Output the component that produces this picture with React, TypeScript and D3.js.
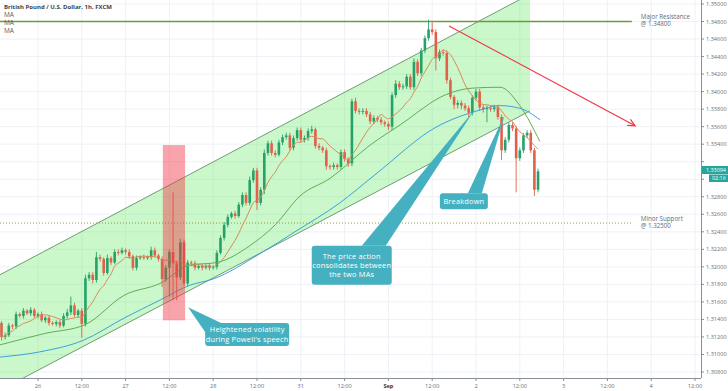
import React from 'react';
import * as d3 from 'd3';

// GBP/USD 1h candles, hour index counted from Aug 26 00:00 (weekend removed)
const firstHour = -10;
const firstOpen = 1.3136;
const closes = [
  1.3120, 1.3122, 1.3133, 1.3132, 1.3146, 1.3144, 1.3150, 1.3147, 1.3151, 1.3144,
  1.3146, 1.3139, 1.3142, 1.3136, 1.3135, 1.3137, 1.3133, 1.3144, 1.3148, 1.3156,
  1.3145, 1.3150, 1.3135, 1.3187, 1.3191, 1.3185, 1.3211, 1.3209, 1.3193, 1.3210,
  1.3205, 1.3217, 1.3216, 1.3219, 1.3217, 1.3212, 1.3199, 1.3210, 1.3211, 1.3210,
  1.3211, 1.3219, 1.3213, 1.3209, 1.3186, 1.3199, 1.3217, 1.3204, 1.3188, 1.3228,
  1.3181, 1.3205, 1.3204, 1.3199, 1.3201, 1.3199, 1.3201, 1.3199, 1.3200, 1.3216,
  1.3233, 1.3248, 1.3257, 1.3261, 1.3258, 1.3271, 1.3282, 1.3273, 1.3299, 1.3310,
  1.3273, 1.3288, 1.3330, 1.3341, 1.3330, 1.3328, 1.3342, 1.3348, 1.3350, 1.3336,
  1.3347, 1.3356, 1.3345, 1.3347, 1.3355, 1.3357, 1.3338, 1.3336, 1.3333, 1.3315,
  1.3314, 1.3316, 1.3314, 1.3331, 1.3323, 1.3318, 1.3389, 1.3378, 1.3377, 1.3378,
  1.3374, 1.3366, 1.3370, 1.3368, 1.3365, 1.3363, 1.3360, 1.3396, 1.3409, 1.3405,
  1.3406, 1.3417, 1.3405, 1.3434, 1.3421, 1.3447, 1.3461, 1.3471, 1.3468, 1.3438,
  1.3445, 1.3444, 1.3413, 1.3394, 1.3385, 1.3387, 1.3384, 1.3381, 1.3376, 1.3393,
  1.3400, 1.3382, 1.3380, 1.3381, 1.3380, 1.3382, 1.3371, 1.3333, 1.3345, 1.3362,
  1.3358, 1.3324, 1.3333, 1.3350, 1.3353, 1.3333, 1.3288, 1.3309,
];
// wick lengths in pips above / below the body
const upperWick = [
  2, 3, 3, 2, 3, 2, 3, 2, 3, 2,
  2, 3, 2, 3, 2, 2, 3, 3, 4, 10,
  3, 2, 3, 4, 3, 3, 6, 3, 2, 4,
  2, 3, 3, 3, 2, 3, 2, 3, 2, 3,
  2, 4, 3, 2, 3, 3, 3, 68, 3, 4,
  3, 3, 2, 3, 2, 3, 2, 3, 2, 3,
  3, 3, 3, 2, 3, 3, 3, 3, 4, 3,
  3, 3, 4, 3, 3, 3, 3, 3, 3, 3,
  3, 3, 3, 3, 3, 4, 2, 3, 2, 3,
  2, 3, 2, 3, 3, 2, 3, 4, 3, 3,
  3, 3, 3, 2, 3, 2, 3, 3, 4, 3,
  3, 3, 3, 4, 3, 3, 3, 11, 8, 3,
  3, 3, 3, 3, 2, 3, 3, 3, 3, 3,
  3, 3, 3, 3, 3, 3, 3, 3, 3, 3,
  3, 3, 3, 3, 3, 3, 3, 3,
];
const lowerWick = [
  4, 3, 2, 3, 3, 2, 3, 2, 3, 2,
  3, 2, 3, 3, 2, 3, 3, 2, 3, 3,
  2, 3, 16, 3, 3, 4, 3, 3, 3, 2,
  3, 2, 3, 2, 3, 3, 3, 3, 2, 2,
  2, 3, 2, 3, 9, 3, 33, 42, 26, 3,
  3, 3, 3, 3, 2, 3, 2, 3, 2, 3,
  2, 3, 3, 2, 3, 2, 3, 3, 3, 3,
  8, 3, 5, 3, 3, 3, 2, 3, 3, 3,
  3, 3, 3, 3, 3, 3, 3, 3, 3, 4,
  3, 3, 3, 3, 3, 4, 3, 3, 3, 3,
  3, 3, 3, 3, 3, 3, 4, 4, 3, 3,
  3, 3, 3, 3, 3, 3, 3, 3, 3, 14,
  3, 3, 4, 3, 5, 4, 4, 3, 5, 3,
  3, 4, 4, 15, 3, 3, 3, 11, 3, 3,
  3, 39, 3, 3, 3, 3, 7, 3,
];

// longer moving averages
const maGreenHours = [-10.4, 1.9, 12.9, 23.8, 33.4, 41.6, 49, 58, 65, 71.8, 80, 91, 99.2, 112, 119, 126.6, 132, 137.5];
const maGreenValues = [1.3111, 1.3124, 1.3134, 1.3168, 1.3181, 1.3202, 1.3205, 1.3224, 1.3248, 1.3281, 1.3301, 1.3339, 1.3362, 1.3397, 1.3404, 1.3405, 1.3384, 1.3343];
const maBlueHours = [-10.4, 0.5, 12.3, 23.8, 33.4, 41.6, 47.9, 60.8, 70.4, 82.7, 92.3, 109.3, 120.3, 126.6, 132, 137.5];
const maBlueValues = [1.3097, 1.3103, 1.3116, 1.3142, 1.3162, 1.3179, 1.3186, 1.3215, 1.3240, 1.3273, 1.3305, 1.3360, 1.3378, 1.3384, 1.3381, 1.3368];
const maShortPeriod = 9;

// drawings
const channelUpper = [[-10.4, 1.3191], [123.8, 1.3487]];
const channelLower = [[-4.1, 1.3073], [126.6, 1.3360]];
const channelEndHour = 134.8;
const majorResistance = 1.348;
const minorSupport = 1.325;
const levelEndHour = 162.7;
const powellZone = { h0: 34.2, h1: 40.3, top: 1.3339, bottom: 1.3139 };
const trendArrow = [[112.6, 1.3475], [163.6, 1.3361]];
const lastPrice = 1.33094;

// axes (1.33000 sits under the last-price badge)
const priceTicks = [1.308, 1.31, 1.312, 1.314, 1.316, 1.318, 1.32, 1.322, 1.324, 1.326, 1.328,
  1.33, 1.332, 1.334, 1.336, 1.338, 1.34, 1.342, 1.344, 1.346, 1.348, 1.35];
const timeTickHours = [0, 12, 24, 36, 48, 60, 72, 84, 96, 108, 120, 132, 144, 156, 168, 180];
const timeTickLabels = ['26', '12:00', '27', '12:00', '28', '12:00', '31', '12:00', 'Sep', '12:00', '2', '12:00', '3', '12:00', '4', '12:00'];

const W = 728;
const H = 391;
const plotRight = 701;
const plotBottom = 378;
const upColor = '#26a269';
const downColor = '#e0604a';
const calloutColor = '#45b1c0';
const font = "'Open Sans', 'Noto Sans', sans-serif";

const x = d3.scaleLinear().domain([0, 180]).range([38, 695]);
const y = d3.scaleLinear().domain([1.308, 1.35]).range([372, 4]);

function lineAt(pts: number[][], h: number) {
  const [[h0, v0], [h1, v1]] = pts;
  return v0 + ((v1 - v0) * (h - h0)) / (h1 - h0);
}

function Callout({ hx, py, w, h, base, tip, lines }: any) {
  const bx = x(hx);
  const by = y(py);
  const pts = [
    [bx + base[0][0], by + base[0][1]],
    [bx + base[1][0], by + base[1][1]],
    [x(tip[0]), y(tip[1])],
  ];
  return (
    <g>
      <polygon points={pts.map((p) => p.join(',')).join(' ')} fill={calloutColor} />
      <rect x={bx} y={by} width={w} height={h} rx={3} fill={calloutColor} />
      {lines.map((t: string, i: number) => (
        <text key={i} x={bx + w / 2} y={by + h / 2 + (i - (lines.length - 1) / 2) * 9.4 + 2.6}
          textAnchor="middle" fontSize={7.4} fill="#fff" fontFamily={font} letterSpacing={0.2}>
          {t}
        </text>
      ))}
    </g>
  );
}

export default function App() {
  const candles = closes.map((c, i) => {
    const o = i === 0 ? firstOpen : closes[i - 1];
    return {
      h: firstHour + i,
      o,
      c,
      hi: Math.max(o, c) + upperWick[i] * 0.0001,
      lo: Math.min(o, c) - lowerWick[i] * 0.0001,
    };
  });

  const shortMa = closes.map((_, i) => {
    const win = closes.slice(Math.max(0, i - maShortPeriod + 1), i + 1);
    return [firstHour + i, d3.mean(win) as number];
  });

  const maLine = d3.line<number[]>().x((d) => x(d[0])).y((d) => y(d[1])).curve(d3.curveMonotoneX);
  const greenPts = maGreenHours.map((h, i) => [h, maGreenValues[i]]);
  const bluePts = maBlueHours.map((h, i) => [h, maBlueValues[i]]);

  const hStart = channelUpper[0][0];
  const fillPts = [
    [x(hStart), y(lineAt(channelUpper, hStart))],
    [x(channelEndHour), y(lineAt(channelUpper, channelEndHour))],
    [x(channelEndHour), y(lineAt(channelLower, channelEndHour))],
    [x(hStart), y(lineAt(channelLower, hStart))],
  ];

  const bw = 2.6;
  const [a0, a1] = trendArrow;
  const ax0 = x(a0[0]), ay0 = y(a0[1]), ax1 = x(a1[0]), ay1 = y(a1[1]);
  const ang = Math.atan2(ay1 - ay0, ax1 - ax0);
  const head = (d: number) => `${ax1 - 8 * Math.cos(ang + d)},${ay1 - 8 * Math.sin(ang + d)}`;
  const badgeY = y(lastPrice);

  return (
    <svg width={W} height={H} style={{ position: 'fixed', left: 0, top: 0, background: '#fff' }}>
      <defs>
        <clipPath id="plot">
          <rect x={0} y={0} width={plotRight} height={plotBottom} />
        </clipPath>
      </defs>

      {/* grid */}
      {priceTicks.map((p) => (
        <line key={p} x1={0} x2={plotRight} y1={y(p)} y2={y(p)} stroke="#eef1f6" />
      ))}
      {timeTickHours.map((h) => (
        <line key={h} x1={x(h)} x2={x(h)} y1={0} y2={plotBottom} stroke="#eef1f6" />
      ))}

      <g clipPath="url(#plot)">
        {/* channel */}
        <polygon points={fillPts.map((p) => p.join(',')).join(' ')} fill="rgba(80,232,80,0.3)" />
        <line x1={fillPts[0][0]} y1={fillPts[0][1]} x2={fillPts[1][0]} y2={fillPts[1][1]} stroke="#6f9c72" strokeWidth={1} />
        <line x1={fillPts[3][0]} y1={fillPts[3][1]} x2={fillPts[2][0]} y2={fillPts[2][1]} stroke="#6f9c72" strokeWidth={1} />

        {/* levels */}
        <line x1={0} x2={x(levelEndHour)} y1={y(majorResistance)} y2={y(majorResistance)} stroke="#6a9c3c" strokeWidth={1.3} />
        <line x1={0} x2={x(levelEndHour)} y1={y(minorSupport)} y2={y(minorSupport)} stroke="#8f9c45" strokeWidth={1} strokeDasharray="1 2" />

        {/* candles */}
        {candles.map((d) => {
          const cx = x(d.h);
          const up = d.c >= d.o;
          const col = up ? upColor : downColor;
          const top = y(Math.max(d.o, d.c));
          const bh = Math.max(1, y(Math.min(d.o, d.c)) - top);
          return (
            <g key={d.h}>
              <line x1={cx} x2={cx} y1={y(d.hi)} y2={y(d.lo)} stroke={col} strokeWidth={0.9} />
              <rect x={cx - bw / 2} y={top} width={bw} height={bh} fill={col} />
            </g>
          );
        })}

        {/* moving averages */}
        <path d={maLine(bluePts) as string} fill="none" stroke="#3f9fdc" strokeWidth={1} />
        <path d={maLine(greenPts) as string} fill="none" stroke="#62ad55" strokeWidth={1} />
        <path d={maLine(shortMa as number[][]) as string} fill="none" stroke="#d88a5a" strokeWidth={1} />

        {/* Powell zone */}
        <rect x={x(powellZone.h0)} y={y(powellZone.top)} width={x(powellZone.h1) - x(powellZone.h0)}
          height={y(powellZone.bottom) - y(powellZone.top)} fill="rgba(242,54,69,0.45)" />

        {/* trend arrow */}
        <line x1={ax0} y1={ay0} x2={ax1} y2={ay1} stroke="#f23645" strokeWidth={1.2} />
        <polyline points={`${head(0.45)} ${ax1},${ay1} ${head(-0.45)}`} fill="none" stroke="#f23645" strokeWidth={1.2} />

        {/* callouts */}
        <Callout hx={75} py={1.3224} w={80} h={39} base={[[50, 0], [74, 0]]} tip={[119.7, 1.338]}
          lines={['The price action', 'consolidates between', 'the two MAs']} />
        <Callout hx={110.1} py={1.3284} w={48} h={16} base={[[28, 0], [42, 0]]} tip={[127.9, 1.3374]}
          lines={['Breakdown']} />
        <Callout hx={45.8} py={1.3136} w={84} h={23} base={[[0, 9], [16, 0]]} tip={[41.1, 1.3154]}
          lines={['Heightened volatility', "during Powell's speech"]} />

        {/* level labels */}
        <text x={x(levelEndHour) + 9} y={y(majorResistance) - 3} fontSize={6.2} fill="#5d6b7c" fontFamily={font}>Major Resistance</text>
        <text x={x(levelEndHour) + 9} y={y(majorResistance) + 4.6} fontSize={6.2} fill="#5d6b7c" fontFamily={font}>@ 1.34800</text>
        <text x={x(levelEndHour) + 9} y={y(minorSupport) - 2.4} fontSize={6.2} fill="#5d6b7c" fontFamily={font}>Minor Support</text>
        <text x={x(levelEndHour) + 9} y={y(minorSupport) + 5.2} fontSize={6.2} fill="#5d6b7c" fontFamily={font}>@ 1.32500</text>
      </g>

      {/* header */}
      <text x={4} y={9} fontSize={6} fontWeight="bold" fill="#3b3f4a" fontFamily={font}>British Pound / U.S. Dollar, 1h, FXCM</text>
      {[0, 1, 2].map((i) => (
        <text key={i} x={4} y={16.5 + i * 8} fontSize={6.5} fill="#5a5f6a" fontFamily={font}>MA</text>
      ))}

      {/* axes */}
      <line x1={plotRight + 0.5} x2={plotRight + 0.5} y1={0} y2={plotBottom} stroke="#8a8e96" />
      <line x1={0} x2={plotRight} y1={plotBottom + 0.5} y2={plotBottom + 0.5} stroke="#8a8e96" />
      {priceTicks.map((p) => (
        <g key={p}>
          <line x1={plotRight} x2={plotRight + 3} y1={y(p)} y2={y(p)} stroke="#8a8e96" />
          {Math.abs(y(p) - badgeY) > 12 && (
            <text x={plotRight + 5} y={y(p) + 2} fontSize={5.6} fill="#6b6f78" fontFamily={font}>{p.toFixed(5)}</text>
          )}
        </g>
      ))}
      {timeTickHours.map((h, i) => (
        <g key={h}>
          <line x1={x(h)} x2={x(h)} y1={plotBottom} y2={plotBottom + 3} stroke="#8a8e96" />
          <text x={x(h)} y={plotBottom + 10} fontSize={5.6} textAnchor="middle"
            fill={timeTickLabels[i] === 'Sep' ? '#333' : '#6b6f78'} fontWeight={timeTickLabels[i] === 'Sep' ? 'bold' : 'normal'}
            fontFamily={font}>{timeTickLabels[i]}</text>
        </g>
      ))}

      {/* last price badge */}
      <rect x={plotRight + 1} y={badgeY - 5} width={W - plotRight - 1} height={8} fill="#26a69a" />
      <text x={plotRight + 5} y={badgeY + 1.2} fontSize={5.4} fill="#fff" fontFamily={font}>{lastPrice.toFixed(5)}</text>
      <rect x={plotRight + 8} y={badgeY + 3.5} width={W - plotRight - 8} height={7.5} fill="#26a69a" />
      <text x={plotRight + 11} y={badgeY + 9.3} fontSize={5.4} fill="#fff" fontFamily={font}>02:16</text>
    </svg>
  );
}
